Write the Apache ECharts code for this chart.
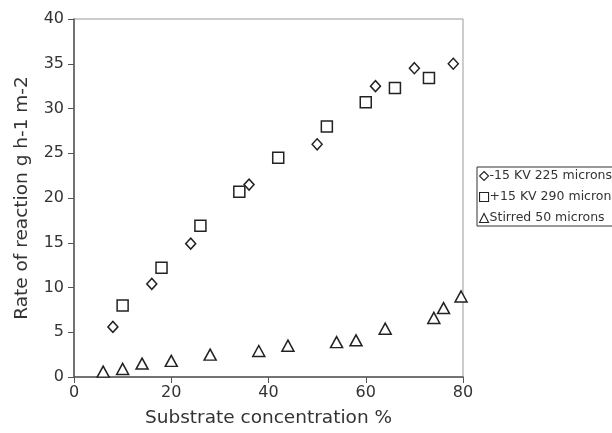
<!DOCTYPE html>
<html><head><meta charset="utf-8">
<script src="https://cdn.jsdelivr.net/npm/echarts@6/dist/echarts.min.js"></script>
<style>html,body{margin:0;padding:0;background:#fff}#c{width:612px;height:433px}</style>
</head><body><div id="c"></div>
<script>
const seriesNames = ["-15 KV 225 microns", "+15 KV 290 microns", "Stirred 50 microns"];
const diamondX = [8, 16, 24, 36, 50, 62, 70, 78];
const diamondY = [5.6, 10.4, 14.9, 21.5, 26.0, 32.5, 34.5, 35.0];
const squareX = [10, 18, 26, 34, 42, 52, 60, 66, 73];
const squareY = [8.0, 12.2, 16.9, 20.7, 24.5, 28.0, 30.7, 32.3, 33.4];
const triX = [6, 10, 14, 20, 28, 38, 44, 54, 58, 64, 74, 76, 79.6];
const triY = [0.6, 0.9, 1.5, 1.8, 2.5, 2.9, 3.5, 3.9, 4.1, 5.4, 6.6, 7.7, 9.0];
const xTicks = [0, 20, 40, 60, 80];
const yTicks = [0, 5, 10, 15, 20, 25, 30, 35, 40];

const zip = (xs, ys) => xs.map((x, i) => [x, ys[i]]);
const font = 'DejaVu Sans, Liberation Sans, sans-serif';
const mk = (name, sym, size, data) => ({
  name, type: 'scatter', symbol: sym, symbolSize: size, data,
  itemStyle: { color: '#ffffff', borderColor: '#222', borderWidth: 1.5, opacity: 1 }
});
const chart = echarts.init(document.getElementById('c'));
chart.setOption({
  animation: false,
  backgroundColor: '#fff',
  grid: { left: 74, right: 149, top: 19, bottom: 56, show: true, borderColor: '#9a9a9a', borderWidth: 1 },
  legend: {
    orient: 'vertical', left: 477, top: 167,
    data: seriesNames,
    itemWidth: 9, itemHeight: 9, itemGap: 7,
    padding: [2, 4, 1, 2],
    borderColor: '#333', borderWidth: 1,
    itemStyle: { borderWidth: 1.1 },
    textStyle: { fontFamily: font, fontSize: 12.5, color: '#333', lineHeight: 14, padding: [0, 0, 0, -4] }
  },
  xAxis: {
    type: 'value', min: 0, max: 80, interval: 20,
    name: 'Substrate concentration %', nameLocation: 'middle', nameGap: 32,
    nameTextStyle: { fontFamily: font, fontSize: 18.5, color: '#333' },
    axisLine: { show: true, lineStyle: { color: '#555', width: 1.5 } },
    axisTick: { show: true, length: 6, lineStyle: { color: '#555' } },
    axisLabel: { fontFamily: font, fontSize: 16, color: '#333', margin: 8,
      formatter: v => xTicks.includes(v) ? String(v) : '' },
    splitLine: { show: false }
  },
  yAxis: {
    type: 'value', min: 0, max: 40, interval: 5,
    name: 'Rate of reaction g h-1 m-2', nameLocation: 'middle', nameGap: 42,
    nameTextStyle: { fontFamily: font, fontSize: 18.5, color: '#333' },
    axisLine: { show: true, lineStyle: { color: '#555', width: 1.5 } },
    axisTick: { show: true, length: 6, lineStyle: { color: '#555' } },
    axisLabel: { fontFamily: font, fontSize: 16, color: '#333', margin: 10,
      formatter: v => yTicks.includes(v) ? String(v) : '' },
    splitLine: { show: false }
  },
  series: [
    mk(seriesNames[0], 'diamond', [10, 11], zip(diamondX, diamondY)),
    mk(seriesNames[1], 'rect', 11, zip(squareX, squareY)),
    mk(seriesNames[2], 'triangle', [12, 11], zip(triX, triY))
  ]
});
</script></body></html>
